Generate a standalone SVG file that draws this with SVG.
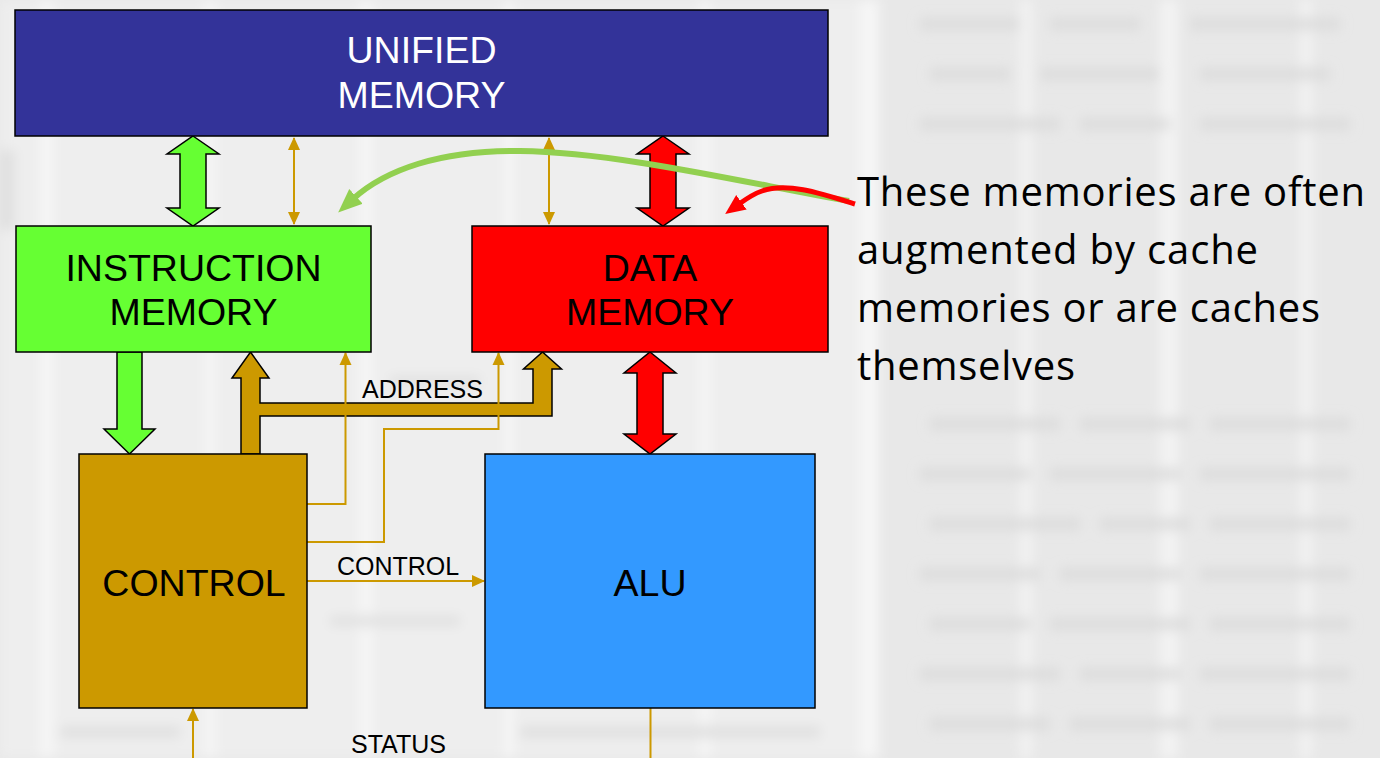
<svg xmlns="http://www.w3.org/2000/svg" width="1380" height="758" viewBox="0 0 1380 758">
  <defs>
    <filter id="soft" x="-5%" y="-5%" width="110%" height="110%">
      <feGaussianBlur stdDeviation="6"/>
    </filter>
    <marker id="goldHead" markerUnits="userSpaceOnUse" markerWidth="14" markerHeight="14" viewBox="0 -7 13 14" refX="12" refY="0" orient="auto-start-reverse">
      <path d="M0,-6 L13,0 L0,6 z" fill="#cc9900"/>
    </marker>
    <marker id="greenHead" markerUnits="userSpaceOnUse" markerWidth="26" markerHeight="24" viewBox="0 -12 26 24" refX="4" refY="0" orient="auto">
      <path d="M0,-10 L24,0 L0,10 z" fill="#92d050"/>
    </marker>
    <marker id="redHead" markerUnits="userSpaceOnUse" markerWidth="22" markerHeight="20" viewBox="0 -10 22 20" refX="3" refY="0" orient="auto">
      <path d="M0,-9 L20,0 L0,9 z" fill="#ff0000"/>
    </marker>
  </defs>
  <style>
    .box { stroke: #000; stroke-width: 1.5; }
    .big { font-family: "Liberation Sans", Arial, sans-serif; font-size: 37.5px; text-anchor: middle; }
    .lbl { font-family: "Liberation Sans", Arial, sans-serif; font-size: 25px; text-anchor: middle; fill: #000; }
    .note { font-family: "Open Sans", "Noto Sans", sans-serif; font-size: 40px; fill: #000; }
    .fat { stroke: #000; stroke-width: 1.5; stroke-linejoin: miter; }
    .thin { fill: none; stroke: #cc9900; stroke-width: 2; }
  </style>

  <!-- textured backdrop -->
  <rect x="0" y="0" width="1380" height="758" fill="#e8e8e8"/>
  <g filter="url(#soft)">
    <rect x="0" y="0" width="880" height="758" fill="#eeeeee"/>
    <rect x="40" y="0" width="14" height="758" fill="#f5f5f5"/>
    <rect x="205" y="0" width="10" height="758" fill="#f6f6f6"/>
    <rect x="360" y="0" width="12" height="758" fill="#f6f6f6"/>
    <rect x="505" y="0" width="8" height="758" fill="#f8f8f8"/>
    <rect x="700" y="0" width="10" height="758" fill="#f6f6f6"/>
    <rect x="860" y="0" width="18" height="758" fill="#f6f6f6"/>
    <rect x="1020" y="0" width="12" height="758" fill="#f2f2f2"/>
    <rect x="1160" y="0" width="18" height="758" fill="#f3f3f3"/>
    <rect x="1300" y="0" width="12" height="758" fill="#f2f2f2"/>
    <g fill="#dadada" opacity="0.8">
      <rect x="920" y="18" width="100" height="12"/>
      <rect x="1050" y="18" width="90" height="12"/>
      <rect x="1190" y="18" width="150" height="12"/>
      <rect x="930" y="68" width="80" height="12"/>
      <rect x="1040" y="68" width="120" height="12"/>
      <rect x="1200" y="68" width="130" height="12"/>
      <rect x="920" y="118" width="140" height="12"/>
      <rect x="1080" y="118" width="90" height="12"/>
      <rect x="1200" y="118" width="150" height="12"/>
      <rect x="930" y="418" width="130" height="12"/>
      <rect x="1080" y="418" width="110" height="12"/>
      <rect x="1210" y="418" width="140" height="12"/>
      <rect x="920" y="468" width="110" height="12"/>
      <rect x="1050" y="468" width="130" height="12"/>
      <rect x="1200" y="468" width="150" height="12"/>
      <rect x="930" y="518" width="150" height="12"/>
      <rect x="1100" y="518" width="90" height="12"/>
      <rect x="1210" y="518" width="140" height="12"/>
      <rect x="920" y="568" width="120" height="12"/>
      <rect x="1060" y="568" width="120" height="12"/>
      <rect x="1200" y="568" width="150" height="12"/>
      <rect x="930" y="618" width="100" height="12"/>
      <rect x="1050" y="618" width="140" height="12"/>
      <rect x="1210" y="618" width="140" height="12"/>
      <rect x="920" y="668" width="140" height="12"/>
      <rect x="1080" y="668" width="100" height="12"/>
      <rect x="1200" y="668" width="150" height="12"/>
      <rect x="930" y="718" width="120" height="12"/>
      <rect x="1070" y="718" width="120" height="12"/>
      <rect x="1210" y="718" width="140" height="12"/>
    </g>
    <g fill="#e0e0e0">
      <rect x="0" y="150" width="15" height="80"/>
      <rect x="390" y="376" width="90" height="10"/>
      <rect x="330" y="616" width="130" height="10"/>
      <rect x="520" y="726" width="300" height="12"/>
      <rect x="60" y="726" width="120" height="12"/>
    </g>
  </g>

  <!-- connectors -->
  <g id="connectors">
    <!-- wide buses -->
    <polygon class="fat" fill="#66ff33" points="193,136 219,154 206,154 206,208 219,208 193,226 167,208 180,208 180,154 167,154"/>
    <polygon class="fat" fill="#ff0000" points="663,136 689,154 676,154 676,208 689,208 663,226 637,208 650,208 650,154 637,154"/>
    <polygon class="fat" fill="#ff0000" points="650,352 676,373 663,373 663,434 676,434 650,454 624,434 637,434 637,373 624,373"/>
    <polygon class="fat" fill="#66ff33" points="117,352 142,352 142,429 155,429 129.5,454 104,429 117,429"/>
    <polygon class="fat" fill="#cc9900" points="241,454 241,378 232,378 250.5,352 269,378 260,378 260,403 533,403 533,369 523.5,369 542.5,352 561.5,369 552,369 552,416 260,416 260,454"/>

    <!-- thin control lines -->
    <path class="thin" d="M294,224 V138" marker-start="url(#goldHead)" marker-end="url(#goldHead)"/>
    <path class="thin" d="M549,224 V138" marker-start="url(#goldHead)" marker-end="url(#goldHead)"/>
    <path class="thin" d="M307,504 H345.5 V353" marker-end="url(#goldHead)"/>
    <path class="thin" d="M307,542 H384 V429 H498.5 V353" marker-end="url(#goldHead)"/>
    <path class="thin" d="M307,581 H484" marker-end="url(#goldHead)"/>
    <path class="thin" d="M193,758 V709" marker-end="url(#goldHead)"/>
    <path class="thin" d="M650.5,708 V758"/>

    <!-- callout arrows -->
    <path d="M849,201 C760,186 620,152 520,151 C440,150 385,170 353,199" fill="none" stroke="#92d050" stroke-width="6" marker-end="url(#greenHead)"/>
    <path d="M855,204 C820,193 787,182 762,191 C753,194 746,199 739,204" fill="none" stroke="#ff0000" stroke-width="5" marker-end="url(#redHead)"/>

    <text class="lbl" x="422.5" y="398">ADDRESS</text>
    <text class="lbl" x="398" y="575">CONTROL</text>
    <text class="lbl" x="398.5" y="753">STATUS</text>
  </g>

  <g id="unified-memory">
    <rect class="box" x="15" y="10" width="813" height="126" fill="#333399"/>
    <text class="big" x="421.5" y="63" fill="#fff">UNIFIED</text>
    <text class="big" x="421.5" y="108" fill="#fff">MEMORY</text>
  </g>

  <g id="instruction-memory">
    <rect class="box" x="16" y="226" width="355" height="126" fill="#66ff33"/>
    <text class="big" x="193.5" y="281" fill="#000">INSTRUCTION</text>
    <text class="big" x="193.5" y="325" fill="#000">MEMORY</text>
  </g>

  <g id="data-memory">
    <rect class="box" x="472" y="226" width="356" height="126" fill="#ff0000"/>
    <text class="big" x="650" y="281" fill="#000">DATA</text>
    <text class="big" x="650" y="325" fill="#000">MEMORY</text>
  </g>

  <g id="control">
    <rect class="box" x="79" y="454" width="228" height="254" fill="#cc9900"/>
    <text class="big" x="194" y="596" fill="#000">CONTROL</text>
  </g>

  <g id="alu">
    <rect class="box" x="485" y="454" width="330" height="254" fill="#3399ff"/>
    <text class="big" x="650" y="596" fill="#000">ALU</text>
  </g>

  <g id="cache-note">
    <text class="note" x="857" y="206" textLength="508" lengthAdjust="spacing">These memories are often</text>
    <text class="note" x="857" y="264" textLength="401" lengthAdjust="spacing">augmented by cache</text>
    <text class="note" x="857" y="322" textLength="463" lengthAdjust="spacing">memories or are caches</text>
    <text class="note" x="857" y="380" textLength="218" lengthAdjust="spacing">themselves</text>
  </g>
</svg>
